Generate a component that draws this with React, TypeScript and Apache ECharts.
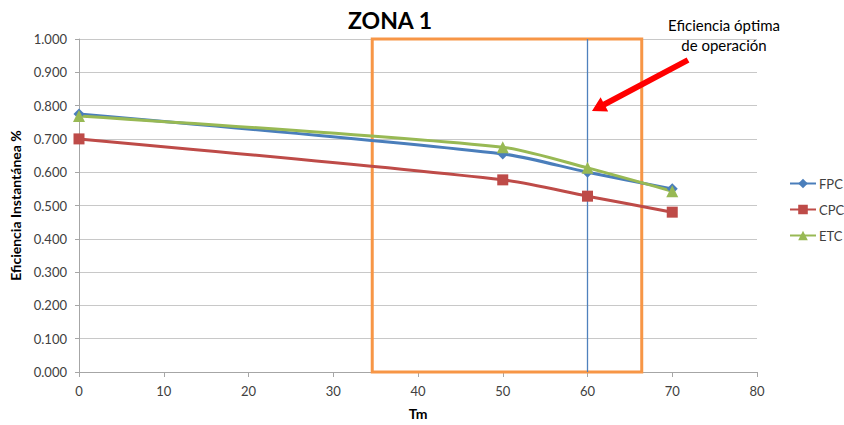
import React, { useEffect, useRef } from "react";
import * as echarts from "echarts";

const xValues = [0, 50, 60, 70];
const fpc = [0.775, 0.655, 0.6, 0.55];
const cpc = [0.7, 0.577, 0.528, 0.48];
const etc = [0.769, 0.675, 0.613, 0.543];
const seriesNames = ["FPC", "CPC", "ETC"];
const zoneRange = [34.6, 66.4];
const optimumX = 60;
const titleText = "ZONA 1";
const yAxisName = "Eficiencia Instantánea %";
const xAxisName = "Tm";
const noteLines = ["Eficiencia óptima", "de operación"];

const FONT = "Lato, 'Open Sans', sans-serif";

export default function App() {
  const ref = useRef<HTMLDivElement>(null);
  useEffect(() => {
    if (!ref.current) return;
    const chart = echarts.init(ref.current, undefined, { renderer: "svg" });
    const pair = (ys: number[]) => xValues.map((x, i) => [x, ys[i]]);
    const mkSeries = (name: string, ys: number[], color: string, symbol: string, size: number) => ({
      name,
      type: "line",
      data: pair(ys),
      smooth: 0.25,
      symbol,
      symbolSize: size,
      showSymbol: true,
      lineStyle: { color, width: 3 },
      itemStyle: { color },
      z: 5,
    });
    const s1: any = mkSeries(seriesNames[0], fpc, "#4a7ebb", "diamond", 11);
    const s2: any = mkSeries(seriesNames[1], cpc, "#be4b48", "rect", 11);
    const s3: any = mkSeries(seriesNames[2], etc, "#98b954", "triangle", 12);
    s1.markArea = {
      silent: true,
      itemStyle: { color: "rgba(0,0,0,0)", borderColor: "#f79646", borderWidth: 3 },
      data: [[{ coord: [zoneRange[0], 1] }, { coord: [zoneRange[1], 0] }]],
      z: 2,
    };
    s1.markLine = {
      silent: true,
      symbol: ["none", "none"],
      label: { show: false },
      lineStyle: { color: "#4f81bd", width: 1.3, type: "solid", opacity: 1 },
      emphasis: { disabled: true },
      data: [{ xAxis: optimumX, lineStyle: { color: "#4f81bd" } }],
    };
    chart.setOption({
      animation: false,
      textStyle: { fontFamily: FONT },
      title: {
        text: titleText,
        left: 385,
        top: 3,
        textAlign: "center",
        textStyle: { fontFamily: FONT, fontWeight: "bold", fontSize: 23, color: "#000" },
      },
      legend: {
        orient: "vertical",
        left: 784,
        top: 172,
        itemWidth: 26,
        itemHeight: 12,
        itemGap: 13,
        data: seriesNames,
        textStyle: { fontFamily: FONT, fontSize: 13, color: "#404040", padding: [0, 0, 0, -2] },
      },
      grid: { left: 79, right: 87, top: 39, bottom: 53, containLabel: false, outerBoundsMode: "none" },
      xAxis: {
        type: "value",
        min: 0,
        max: 80,
        interval: 10,
        name: xAxisName,
        nameLocation: "middle",
        nameGap: 34,
        nameTextStyle: { fontFamily: FONT, fontWeight: "bold", fontSize: 14, color: "#000" },
        axisLine: { show: true, lineStyle: { color: "#a6a6a6", width: 1 } },
        axisTick: { show: true, length: 5, lineStyle: { color: "#a6a6a6" } },
        axisLabel: { fontFamily: FONT, fontSize: 13, color: "#404040", margin: 12 },
        splitLine: { show: false },
      },
      yAxis: {
        type: "value",
        min: 0,
        max: 1,
        interval: 0.1,
        name: yAxisName,
        nameLocation: "middle",
        nameGap: 55,
        nameTextStyle: { fontFamily: FONT, fontWeight: "bold", fontSize: 14, color: "#000" },
        axisLine: { show: true, lineStyle: { color: "#a6a6a6", width: 1 } },
        axisTick: { show: true, length: 4, lineStyle: { color: "#a6a6a6" } },
        axisLabel: {
          fontFamily: FONT,
          fontSize: 13,
          color: "#404040",
          margin: 12,
          formatter: (v: number) => v.toFixed(3),
        },
        splitLine: { show: true, lineStyle: { color: "#c8c8c8", width: 1 } },
      },
      graphic: [
        {
          type: "text",
          x: 724,
          y: 15,
          style: {
            text: noteLines.join("\n"),
            fontFamily: FONT,
            fontSize: 15,
            lineHeight: 20,
            align: "center",
            verticalAlign: "top",
            fill: "#000",
          },
        },
        {
          type: "polygon",
          shape: {
            points: [
              [686.6, 57.4],
              [603.0, 101.8],
              [600.6, 97.3],
              [592, 111],
              [608.2, 111.5],
              [605.8, 107.0],
              [689.4, 62.6],
            ],
          },
          style: { fill: "#ff0000" },
          z: 10,
        },
      ],
      series: [s1, s2, s3],
    });
    return () => chart.dispose();
  }, []);
  return <div ref={ref} style={{ width: 844, height: 425, position: "absolute", left: 0, top: 0 }} />;
}
